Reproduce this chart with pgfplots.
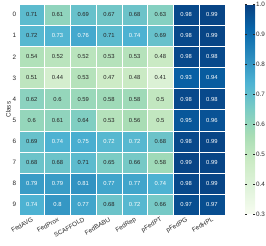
\documentclass[border=0pt]{standalone}
\usepackage{pgfplots}
\usepackage{pgfplotstable}
\usepackage{fontspec}
\setmainfont{Liberation Sans}
\pgfplotsset{compat=1.18}
\definecolor{txt}{RGB}{38,38,38}
\pgfplotstableread{
x y c
0 0 0.71
1 0 0.61
2 0 0.69
3 0 0.67
4 0 0.68
5 0 0.63
6 0 0.98
7 0 0.99
0 1 0.72
1 1 0.73
2 1 0.76
3 1 0.71
4 1 0.74
5 1 0.69
6 1 0.98
7 1 0.99
0 2 0.54
1 2 0.52
2 2 0.52
3 2 0.53
4 2 0.53
5 2 0.48
6 2 0.98
7 2 0.98
0 3 0.51
1 3 0.44
2 3 0.53
3 3 0.47
4 3 0.48
5 3 0.41
6 3 0.93
7 3 0.94
0 4 0.62
1 4 0.60
2 4 0.59
3 4 0.58
4 4 0.58
5 4 0.50
6 4 0.98
7 4 0.98
0 5 0.60
1 5 0.61
2 5 0.64
3 5 0.53
4 5 0.56
5 5 0.50
6 5 0.95
7 5 0.96
0 6 0.69
1 6 0.74
2 6 0.75
3 6 0.72
4 6 0.72
5 6 0.68
6 6 0.98
7 6 0.99
0 7 0.68
1 7 0.68
2 7 0.71
3 7 0.65
4 7 0.66
5 7 0.58
6 7 0.99
7 7 0.99
0 8 0.79
1 8 0.79
2 8 0.81
3 8 0.77
4 8 0.77
5 8 0.74
6 8 0.98
7 8 0.99
0 9 0.74
1 9 0.80
2 9 0.77
3 9 0.68
4 9 0.72
5 9 0.66
6 9 0.97
7 9 0.97
}\datatable
% cells whose value is written in dark text
\pgfplotstableread{
x y c
0 0 0.71
1 0 0.61
2 0 0.69
3 0 0.67
4 0 0.68
5 0 0.63
0 1 0.72
3 1 0.71
5 1 0.69
0 2 0.54
1 2 0.52
2 2 0.52
3 2 0.53
4 2 0.53
5 2 0.48
0 3 0.51
1 3 0.44
2 3 0.53
3 3 0.47
4 3 0.48
5 3 0.41
0 4 0.62
1 4 0.60
2 4 0.59
3 4 0.58
4 4 0.58
5 4 0.50
0 5 0.60
1 5 0.61
2 5 0.64
3 5 0.53
4 5 0.56
5 5 0.50
0 6 0.69
5 6 0.68
0 7 0.68
1 7 0.68
2 7 0.71
3 7 0.65
4 7 0.66
5 7 0.58
3 9 0.68
5 9 0.66
}\darktable
% cells whose value is written in white text
\pgfplotstableread{
x y c
6 0 0.98
7 0 0.99
1 1 0.73
2 1 0.76
4 1 0.74
6 1 0.98
7 1 0.99
6 2 0.98
7 2 0.98
6 3 0.93
7 3 0.94
6 4 0.98
7 4 0.98
6 5 0.95
7 5 0.96
1 6 0.74
2 6 0.75
3 6 0.72
4 6 0.72
6 6 0.98
7 6 0.99
6 7 0.99
7 7 0.99
0 8 0.79
1 8 0.79
2 8 0.81
3 8 0.77
4 8 0.77
5 8 0.74
6 8 0.98
7 8 0.99
0 9 0.74
1 9 0.80
2 9 0.77
4 9 0.72
6 9 0.97
7 9 0.97
}\whitetable
\begin{document}
\begin{tikzpicture}
\pgfplotsset{
  colormap={GnBu}{rgb255(0)=(247,252,240) rgb255(1)=(224,243,219) rgb255(2)=(204,235,197) rgb255(3)=(168,221,181) rgb255(4)=(123,204,196) rgb255(5)=(78,179,211) rgb255(6)=(43,140,190) rgb255(7)=(8,104,172) rgb255(8)=(8,64,129)}
}
\begin{axis}[
  name=ax,
  scale only axis,
  width=207.5bp, height=213bp,
  xmin=-0.5, xmax=7.5, ymin=-0.5, ymax=9.5,
  y dir=reverse,
  axis line style={draw=none},
  major tick length=0pt,
  xtick={0,...,7},
  xticklabels={FedAVG,FedProx,SCAFFOLD,FedBABU,FedRep,pFedPT,pFedPG,FedHPL},
  ytick={0,...,9},
  tick label style={font=\fontsize{6.4}{7.5}\selectfont, text=txt},
  xticklabel style={rotate=30, anchor=north east, inner sep=1pt},
  yticklabel style={inner sep=2.5pt},
  ylabel={Class},
  ylabel style={font=\fontsize{6.4}{7.5}\selectfont, text=txt, yshift=-4bp},
  /pgf/number format/assume math mode=true,
  point meta min=0.3, point meta max=1.0,
  colormap name=GnBu,
  colorbar right,
  colorbar style={
    width=10bp,
    at={(parent axis.north east)}, anchor=north west, xshift=12bp, yshift=-0.5bp,
    height=211bp,
    ytick={0.3,0.4,0.5,0.6,0.7,0.8,0.9,1.0},
    axis line style={draw=none},
    major tick length=2pt,
    ytick style={draw=txt, line width=0.4pt},
    yticklabel style={font=\fontsize{6.4}{7.5}\selectfont, text=txt, inner sep=1pt,
      /pgf/number format/.cd, fixed, fixed zerofill, precision=1, assume math mode=true},
  },
]
\addplot[matrix plot*, mesh/cols=8, point meta=explicit, draw=white, line width=0.4pt]
  table[x=x, y=y, meta=c] {\datatable};
\addplot[only marks, mark=none, point meta=explicit,
  nodes near coords, nodes near coords align=center,
  nodes near coords style={font=\fontsize{5.9}{7}\selectfont, text=txt, anchor=center,
    /pgf/number format/.cd, fixed, precision=2, assume math mode=true}]
  table[x=x, y=y, meta=c] {\darktable};
\addplot[only marks, mark=none, point meta=explicit,
  nodes near coords, nodes near coords align=center,
  nodes near coords style={font=\fontsize{5.9}{7}\selectfont, text=white, anchor=center,
    /pgf/number format/.cd, fixed, precision=2, assume math mode=true}]
  table[x=x, y=y, meta=c] {\whitetable};
\end{axis}
\path (ax.north west) ++(-19bp,4bp) rectangle ++(266bp,-247bp);
\end{tikzpicture}
\end{document}
